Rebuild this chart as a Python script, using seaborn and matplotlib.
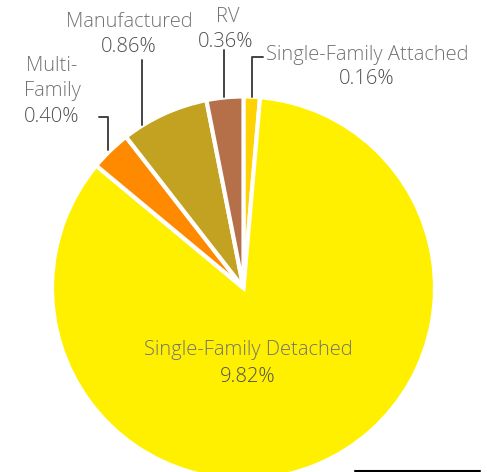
import matplotlib
matplotlib.use("Agg")
import matplotlib.pyplot as plt
import seaborn as sns

# Data (clockwise from top)
categories = ["Single-Family Attached", "Single-Family Detached", "Multi-Family", "Manufactured", "RV"]
values = [0.16, 9.82, 0.40, 0.86, 0.36]
value_labels = ["0.16%", "9.82%", "0.40%", "0.86%", "0.36%"]
colors = ["#FFD200", "#FFF000", "#FF8A00", "#C2A220", "#B5704A"]

sns.set_theme(style="white")
plt.rcParams['font.family'] = ['Open Sans', 'DejaVu Sans']

W, H = 487, 472
fig = plt.figure(figsize=(W / 100, H / 100), dpi=100)
ax = fig.add_axes([0, 0, 1, 1])

cx, cy, r = 243.5, 288, 191.5
def Y(y):
    return H - y

ax.pie(values, colors=colors, startangle=90, counterclock=False,
       center=(cx, Y(cy)), radius=r,
       wedgeprops=dict(edgecolor="white", linewidth=3))
ax.set_xlim(0, W)
ax.set_ylim(0, H)
ax.set_aspect("auto")
ax.axis("off")

lab_col = "#727272"
val_col = "#505050"
fs = 14.5
fw = "light"

def txt(x, y, s, c):
    ax.text(x, Y(y), s, ha="center", va="center", color=c, fontsize=fs, fontweight=fw)

txt(129, 22, "Manufactured", lab_col)
txt(129, 47, value_labels[3], val_col)
txt(228, 17, "RV", lab_col)
txt(226, 42, value_labels[4], val_col)
txt(367, 55, "Single-Family Attached", lab_col)
txt(367, 79, value_labels[0], val_col)
txt(52, 66, "Multi-", lab_col)
txt(52, 91, "Family", lab_col)
txt(52, 117, value_labels[2], val_col)
txt(248, 350, "Single-Family Detached", lab_col)
txt(248, 377, value_labels[1], val_col)

lc = "#444444"
lw = 1.4
ax.plot([99, 108, 108], [Y(117), Y(117), Y(150)], color=lc, lw=lw)
ax.plot([142, 142], [Y(60), Y(125)], color=lc, lw=lw)
ax.plot([224, 224], [Y(50), Y(97)], color=lc, lw=lw)
ax.plot([263, 252, 252], [Y(57), Y(57), Y(97)], color=lc, lw=lw)

ax.plot([355, 480], [Y(471), Y(471)], color="black", lw=1.5, clip_on=False)

fig.savefig("out.png", dpi=100)
